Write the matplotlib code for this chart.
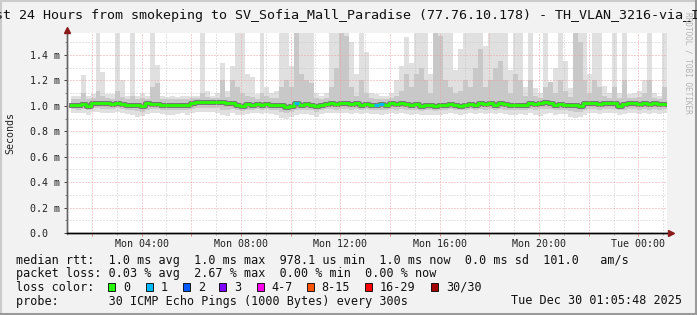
import matplotlib
matplotlib.use("Agg")
import matplotlib.pyplot as plt
import numpy as np
from matplotlib.patches import Rectangle
from matplotlib.lines import Line2D

# ---------------- data (ms), 120 bins of 12 minutes ----------------
start_hour = 1.148          # Mon 01:09
bin_hours = 0.2

median_ms = [1.010,1.010,1.015,1.000,1.025,1.025,1.020,1.020,
             1.015,1.020,1.015,1.010,1.010,1.005,1.000,1.020,1.015,
             1.015,1.010,1.010,1.005,1.010,1.010,1.005,1.020,
             1.030,1.030,1.030,1.030,1.030,1.030,1.025,1.020,
             1.010,1.000,1.015,1.010,1.015,1.010,1.015,1.010,
             1.010,1.005,0.990,1.000,1.020,
             1.010,1.015,1.010,1.000,1.010,
             1.015,1.020,1.015,1.020,1.020,1.015,
             1.020,1.010,1.015,1.010,1.010,1.015,1.010,
             1.020,1.015,1.020,1.015,1.010,1.015,1.000,1.010,
             1.005,1.000,1.005,1.010,1.015,1.010,1.000,1.010,
             1.015,1.010,1.020,1.015,1.020,1.010,1.020,1.015,
             1.010,1.005,1.010,1.010,1.020,1.015,1.020,1.030,
             1.020,1.010,1.015,1.010,1.005,1.010,1.000,1.020,
             1.020,1.020,1.015,1.020,1.025,1.020,1.000,1.015,
             1.020,1.020,1.015,1.020,1.015,1.020,1.015,1.015]

max_ms = [1.08,1.08,1.24,1.08,1.09,1.60,1.27,1.09,1.09,1.60,1.20,1.08,1.60,1.08,1.10,1.08,1.60,1.32,1.08,1.07,1.08,1.07,1.08,1.08,1.08,
          1.08,1.60,1.12,1.08,1.10,1.34,1.12,1.31,1.60,1.60,1.25,1.23,1.09,1.60,1.15,1.10,1.12,1.60,1.60,1.31,1.60,1.60,1.60,
          1.60,1.10,1.08,1.10,1.60,1.60,1.60,1.60,1.50,1.25,1.60,1.42,1.10,1.09,1.08,1.08,1.10,1.20,1.31,1.54,1.34,1.60,1.60,1.60,
          1.25,1.60,1.60,1.60,1.60,1.28,1.45,1.60,1.60,1.60,1.60,1.47,1.60,1.60,1.60,1.60,1.28,1.60,1.60,1.15,1.60,1.14,1.10,1.60,
          1.18,1.30,1.60,1.35,1.14,1.60,1.60,1.60,1.25,1.60,1.60,1.16,1.10,1.60,1.10,1.60,1.09,1.10,1.12,1.20,1.60,1.10,1.08,1.60]

high_ms = [1.05,1.05,1.10,1.05,1.06,1.12,1.08,1.06,1.05,1.12,1.07,1.05,1.08,1.05,1.06,1.05,1.15,1.18,1.05,1.05,1.05,1.05,1.05,1.05,1.06,
           1.06,1.10,1.07,1.06,1.06,1.20,1.07,1.20,1.15,1.10,1.08,1.07,1.05,1.10,1.08,1.06,1.06,1.15,1.20,1.15,1.60,1.25,1.20,
           1.18,1.06,1.05,1.06,1.15,1.30,1.60,1.55,1.15,1.08,1.20,1.10,1.06,1.05,1.05,1.05,1.06,1.08,1.12,1.25,1.15,1.25,1.30,1.20,
           1.10,1.60,1.55,1.20,1.15,1.10,1.12,1.20,1.15,1.30,1.45,1.15,1.20,1.30,1.35,1.20,1.10,1.25,1.20,1.08,1.20,1.08,1.06,1.15,
           1.19,1.10,1.20,1.12,1.07,1.60,1.50,1.20,1.10,1.20,1.15,1.08,1.06,1.15,1.06,1.20,1.06,1.06,1.07,1.10,1.20,1.06,1.05,1.15]

low_ms = [0.975,0.970,0.975,0.965,0.980,0.980,0.975,0.975,0.975,0.980,0.975,0.970,0.965,0.960,0.955,0.970,0.975,0.975,0.970,0.970,0.965,0.970,0.970,0.965,0.975,
          0.985,0.985,0.985,0.980,0.980,0.970,0.965,0.975,0.965,0.960,0.970,0.970,0.975,0.970,0.975,0.970,0.965,0.955,0.945,0.955,0.965,0.970,0.970,
          0.965,0.955,0.970,0.975,0.975,0.970,0.975,0.975,0.970,0.975,0.970,0.975,0.970,0.970,0.965,0.970,0.975,0.970,0.975,0.970,0.965,0.970,0.960,0.965,
          0.965,0.960,0.965,0.970,0.975,0.970,0.965,0.970,0.975,0.970,0.975,0.970,0.975,0.970,0.975,0.970,0.965,0.965,0.970,0.965,0.975,0.970,0.975,0.975,
          0.975,0.965,0.970,0.970,0.960,0.955,0.955,0.965,0.975,0.975,0.970,0.975,0.975,0.975,0.965,0.970,0.975,0.975,0.970,0.975,0.970,0.975,0.970,0.975]

min_ms = [0.945,0.940,0.945,0.930,0.950,0.950,0.945,0.940,0.945,0.950,0.945,0.935,0.925,0.910,0.920,0.935,0.940,0.940,0.935,0.930,0.930,0.935,0.940,0.930,0.940,
          0.950,0.955,0.955,0.950,0.945,0.925,0.920,0.940,0.930,0.930,0.935,0.940,0.945,0.935,0.940,0.935,0.925,0.905,0.900,0.910,0.925,0.935,0.935,
          0.925,0.915,0.935,0.940,0.945,0.940,0.945,0.940,0.935,0.945,0.935,0.940,0.935,0.935,0.925,0.935,0.940,0.935,0.940,0.935,0.930,0.935,0.925,0.930,
          0.930,0.925,0.930,0.935,0.940,0.935,0.930,0.935,0.940,0.935,0.940,0.935,0.940,0.935,0.940,0.935,0.930,0.925,0.935,0.925,0.940,0.930,0.920,0.935,
          0.940,0.930,0.935,0.935,0.915,0.905,0.910,0.925,0.940,0.940,0.935,0.940,0.940,0.940,0.925,0.935,0.940,0.940,0.935,0.940,0.935,0.940,0.935,0.940]

loss_count = [0]*120
loss_count[45] = 1
loss_count[61] = 1
loss_count[62] = 1

y_ticks = [0.0, 0.2, 0.4, 0.6, 0.8, 1.0, 1.2, 1.4]
y_tick_labels = ["0.0  ", "0.2 m", "0.4 m", "0.6 m", "0.8 m", "1.0 m", "1.2 m", "1.4 m"]
x_label_hours = [4, 8, 12, 16, 20, 24]
x_labels = ["Mon 04:00", "Mon 08:00", "Mon 12:00", "Mon 16:00", "Mon 20:00", "Tue 00:00"]

title = "Last 24 Hours from smokeping to SV_Sofia_Mall_Paradise (77.76.10.178) - TH_VLAN_3216-via_IX"
legend_lines = [
    "median rtt:  1.0 ms avg  1.0 ms max  978.1 us min  1.0 ms now  0.0 ms sd  101.0   am/s",
    "packet loss: 0.03 % avg  2.67 % max  0.00 % min  0.00 % now",
]
loss_labels = ["0", "1", "2", "3", "4-7", "8-15", "16-29", "30/30"]
loss_colors = ["#26ff00", "#00b8ff", "#0059ff", "#7e00ff", "#ff00ea", "#ff5500", "#ff0000", "#a10000"]
probe_text = "probe:       30 ICMP Echo Pings (1000 Bytes) every 300s"
date_text = "Tue Dec 30 01:05:48 2025"

for arr in (median_ms, max_ms, high_ms, low_ms, min_ms):
    assert len(arr) == 120, len(arr)

# ---------------- figure ----------------
W, H = 697, 315
BG = "#f2f2f2"
MONO = "DejaVu Sans Mono"
plt.rcParams["font.family"] = MONO

fig = plt.figure(figsize=(W / 100, H / 100), dpi=100, facecolor=BG)

def fx(px):
    return px / W

def fy(py):
    return 1 - py / H

L, R, T, B = 67, 667, 33, 233
ax = fig.add_axes([fx(L), fy(B), (R - L) / W, (B - T) / H])
ax.set_facecolor("white")

n = len(median_ms)
edges = start_hour + bin_hours * np.arange(n + 1)

def ext(a):
    a = list(a)
    return np.array(a + [a[-1]])

ax.fill_between(edges, ext(min_ms), ext(max_ms), step="post", color="#e0e0e0", lw=0, zorder=1)
ax.fill_between(edges, ext(low_ms), ext(high_ms), step="post", color="#c8c8c8", lw=0, zorder=1.2)
ax.step(edges, ext(median_ms), where="post", color="#6a6a6a", lw=3.6, zorder=1.5, alpha=0.85)

ax.step(edges, ext(median_ms), where="post", color=loss_colors[0], lw=2.0, zorder=5)
for i in range(n):
    if loss_count[i] > 0:
        ax.plot([edges[i], edges[i + 1]], [median_ms[i], median_ms[i]],
                color=loss_colors[loss_count[i]], lw=2.0, zorder=6, solid_capstyle="butt")

ymax = 1.573
ax.set_xlim(start_hour, start_hour + 24)
ax.set_ylim(0, ymax)

# grid
major_x = np.arange(2, 26, 2)
minor_x = np.arange(1, 26, 2)
ax.set_xticks(major_x)
ax.set_xticks(minor_x, minor=True)
ax.set_xticklabels([x_labels[x_label_hours.index(h)] if h in x_label_hours else "" for h in major_x])
ax.set_yticks(y_ticks)
ax.set_yticklabels(y_tick_labels)
ax.set_yticks([0.1, 0.3, 0.5, 0.7, 0.9, 1.1, 1.3, 1.5], minor=True)

ax.grid(True, which="major", color="#f0a0a0", lw=0.72, linestyle=(0, (1, 2)))
ax.grid(True, which="minor", color="#c8c8c8", lw=0.72, linestyle=(0, (1, 2)))
ax.set_axisbelow(False)

ax.tick_params(axis="y", which="major", length=2.5, width=0.7, color="#444444",
               pad=23.8, labelsize=7.2, labelcolor="#222222")
for lab in ax.get_yticklabels():
    lab.set_horizontalalignment("left")
ax.tick_params(axis="y", which="minor", length=1.5, width=0.7, color="#888888")
ax.tick_params(axis="x", which="major", length=2, width=0.7, color="#e08080",
               pad=2.5, labelsize=7.2, labelcolor="#222222")
ax.tick_params(axis="x", which="minor", length=1.5, width=0.7, color="#999999")

for s in ("top", "right"):
    ax.spines[s].set_visible(False)
ax.spines["left"].set_color("#666666")
ax.spines["left"].set_linewidth(1.0)
ax.spines["bottom"].set_color("#000000")
ax.spines["bottom"].set_linewidth(1.0)

# axis extensions + arrows
fig.add_artist(Line2D([fx(L), fx(L)], [fy(B), fy(29)], color="#666666", lw=1.0))
fig.add_artist(Line2D([fx(L), fx(670)], [fy(B), fy(B)], color="#000000", lw=1.0))
fig.add_artist(Line2D([fx(L)], [fy(29.5)], marker="^", markersize=5, color="#8b1a1a", lw=0))
fig.add_artist(Line2D([fx(670.5)], [fy(B)], marker=">", markersize=5, color="#8b1a1a", lw=0))

ax.set_ylabel("Seconds", fontsize=7.2, color="#222222")
ax.yaxis.set_label_coords((15 - L) / (R - L), 0.5)

# title
fig.text(fx(-21), fy(18.5), title, fontsize=9.6, ha="left", va="baseline", color="#111111")

# watermark
fig.text(fx(688), fy(63), "RRDTOOL / TOBI OETIKER", rotation=270, fontsize=5.6,
         color="#b4b4b4", ha="center", va="center")

# legend
FS = 8.5
fig.text(fx(16), fy(264), legend_lines[0], fontsize=FS, va="baseline", color="#111111")
fig.text(fx(16), fy(277.5), legend_lines[1], fontsize=FS, va="baseline", color="#111111")
fig.text(fx(16), fy(291), "loss color:", fontsize=FS, va="baseline", color="#111111")
box_x = [108.3, 145.7, 182.7, 219.3, 256.7, 306.7, 365.0, 430.7]
for bx, lab, col in zip(box_x, loss_labels, loss_colors):
    fig.add_artist(Rectangle((fx(bx), fy(290.7)), 7 / W, 8 / H, facecolor=col,
                             edgecolor="#000000", lw=0.6))
    fig.text(fx(bx + 15), fy(291), lab, fontsize=FS, va="baseline", color="#111111")
fig.text(fx(16), fy(304.5), probe_text, fontsize=FS, va="baseline", color="#111111")
fig.text(fx(682), fy(304.5), date_text, fontsize=FS, va="baseline", ha="right", color="#111111")

# frame bevel
fig.add_artist(Line2D([0, 1], [fy(0.5), fy(0.5)], color="#cbcbcb", lw=1.5))
fig.add_artist(Line2D([fx(0.5), fx(0.5)], [0, 1], color="#cbcbcb", lw=1.5))
fig.add_artist(Line2D([0, 1], [fy(313.5), fy(313.5)], color="#999999", lw=2.2))
fig.add_artist(Line2D([fx(695.5), fx(695.5)], [0, 1], color="#999999", lw=2.2))

fig.savefig("out.png", dpi=100, facecolor=BG)
